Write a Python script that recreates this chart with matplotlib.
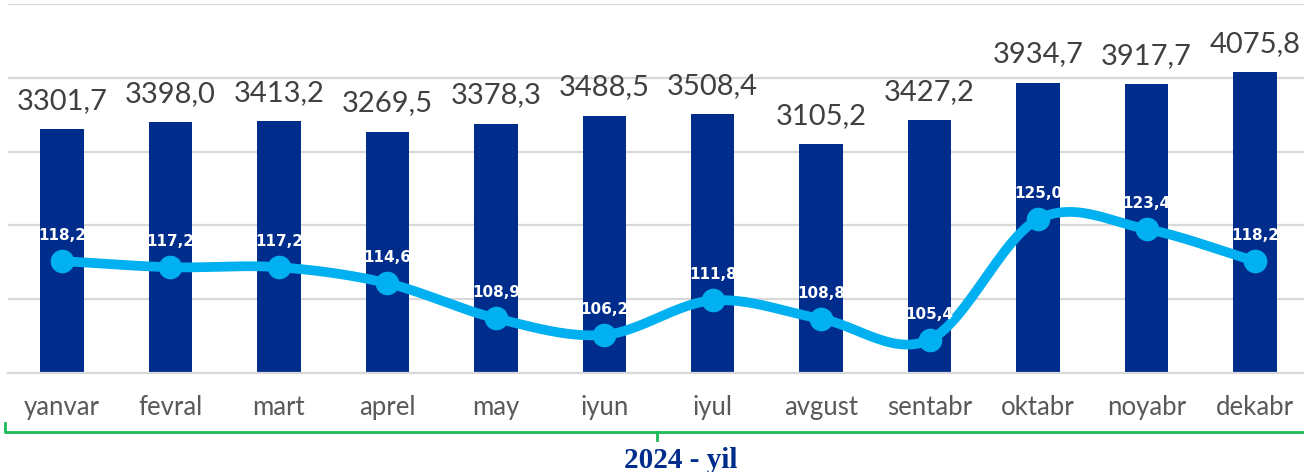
import matplotlib.pyplot as plt
import numpy as np

months = ['yanvar', 'fevral', 'mart', 'aprel', 'may', 'iyun', 'iyul',
          'avgust', 'sentabr', 'oktabr', 'noyabr', 'dekabr']
volume = [3301.7, 3398.0, 3413.2, 3269.5, 3378.3, 3488.5, 3508.4,
          3105.2, 3427.2, 3934.7, 3917.7, 4075.8]
index_pct = [118.2, 117.2, 117.2, 114.6, 108.9, 106.2, 111.8,
             108.8, 105.4, 125.0, 123.4, 118.2]
year_label = '2024 - yil'

BAR = '#002D8C'
LINE = '#00B0F0'


def fmt(v):
    return f'{v:.1f}'.replace('.', ',')


# silliqlangan chiziq (Catmull-Rom)
def smooth(xs, ys, n=30):
    xs = np.asarray(xs, float)
    ys = np.asarray(ys, float)
    px = np.concatenate([[2 * xs[0] - xs[1]], xs, [2 * xs[-1] - xs[-2]]])
    py = np.concatenate([[2 * ys[0] - ys[1]], ys, [2 * ys[-1] - ys[-2]]])
    ox, oy = [], []
    t = np.linspace(0, 1, n)
    for i in range(1, len(px) - 2):
        for p, out in ((px, ox), (py, oy)):
            p0, p1, p2, p3 = p[i - 1], p[i], p[i + 1], p[i + 2]
            out.extend(0.5 * (2 * p1 + (-p0 + p2) * t
                              + (2 * p0 - 5 * p1 + 4 * p2 - p3) * t ** 2
                              + (-p0 + 3 * p1 - 3 * p2 + p3) * t ** 3))
    return np.array(ox), np.array(oy)


fig = plt.figure(figsize=(13.04, 4.72), dpi=100)
ax = fig.add_axes([7.8 / 1304, 99 / 472, 1301.4 / 1304, 369 / 472])
x = np.arange(len(months))

ax.bar(x, volume, width=0.4, color=BAR, zorder=2)
ax.set_ylim(0, 5000)
ax.set_xlim(-0.5, len(months) - 0.5)
ax.set_yticks(np.arange(0, 5001, 1000))
ax.yaxis.grid(True, color='#D9D9D9', linewidth=1.6)
ax.set_axisbelow(True)
ax.set_xticks(x)
ax.set_xticklabels(months, family='Lato')
for s in ['top', 'left', 'right']:
    ax.spines[s].set_visible(False)
ax.spines['bottom'].set_color('#D9D9D9')
ax.spines['bottom'].set_linewidth(1.6)

for xi, v in zip(x, volume):
    ax.annotate(fmt(v), (xi, v), xytext=(0, 11), textcoords='offset points',
                ha='center', va='bottom', fontsize=21, color='#404040',
                family='Lato')

ax2 = ax.twinx()
ax2.set_ylim(100, 160)
ax2.axis('off')
# twinx qayta yoqadi, shuning uchun keyin o'chiramiz
ax.tick_params(axis='y', left=False, right=False, labelleft=False, length=0)
ax.tick_params(axis='x', bottom=False, pad=12, labelsize=18.5, labelcolor='#595959')

sx, sy = smooth(x, index_pct)
ax2.plot(sx, sy, color=LINE, linewidth=7, solid_capstyle='round', zorder=3)
ax2.plot(x, index_pct, 'o', color=LINE, markersize=16, zorder=4)
for xi, v in zip(x, index_pct):
    ax2.annotate(fmt(v), (xi, v), xytext=(0, 13), textcoords='offset points',
                 ha='center', va='bottom', fontsize=11, color='white',
                 fontweight='bold', zorder=5)

# pastki qavs
fig.add_artist(plt.Line2D(np.array([5, 5, 1304]) / 1304,
                          1 - np.array([423, 432, 432]) / 472,
                          color='#1DB954', linewidth=2))
fig.add_artist(plt.Line2D(np.array([657, 657]) / 1304,
                          1 - np.array([432, 440]) / 472,
                          color='#1DB954', linewidth=2))
fig.text(681 / 1304, 1 - 461 / 472, year_label, ha='center', va='center',
         fontsize=21, fontweight='bold', color='#002D8C', family='Liberation Serif')

fig.savefig('out.png', dpi=100)
